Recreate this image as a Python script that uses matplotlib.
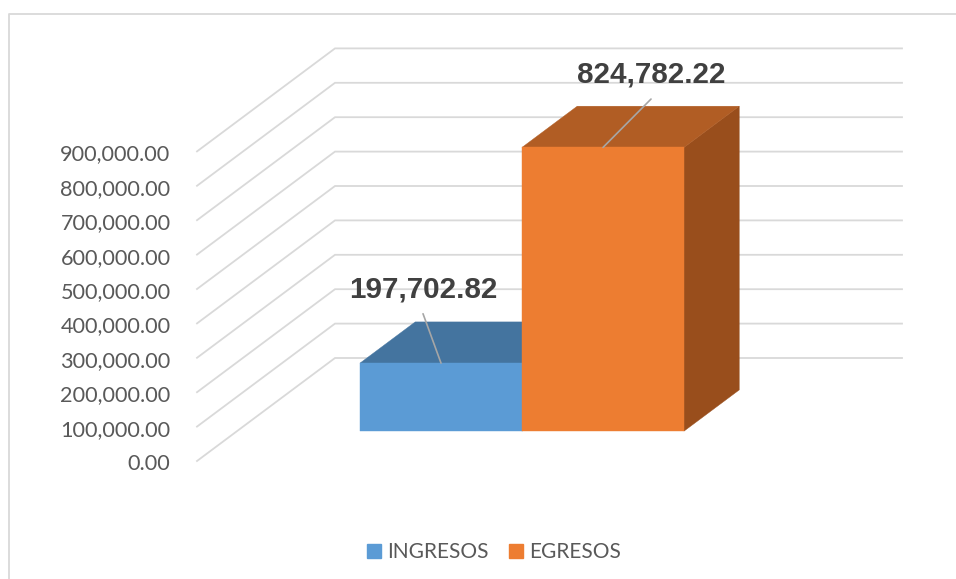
import matplotlib
matplotlib.use('Agg')
import matplotlib.pyplot as plt
from matplotlib.lines import Line2D
from matplotlib.patches import Patch, Polygon
from matplotlib.transforms import ScaledTranslation

categories = ['INGRESOS', 'EGRESOS']
values = [197702.82, 824782.22]
yticks = [0, 100000, 200000, 300000, 400000, 500000, 600000, 700000, 800000, 900000]
ylabels = ['0.00', '100,000.00', '200,000.00', '300,000.00', '400,000.00',
           '500,000.00', '600,000.00', '700,000.00', '800,000.00', '900,000.00']
front_colors = ['#5B9BD5', '#ED7D31']
top_colors = ['#44749F', '#B15D24']
side_colors = ['#3A6489', '#994E1C']

W, H = 956, 579
PX_PER_VAL = 34.4 / 100000     # pixels per unit on the value axis
CAT_PX = 162                   # width of one bar
DEPTH_X = 138 / CAT_PX         # wall depth in x units
DEPTH_Y = 103 / PX_PER_VAL     # wall depth in value units
BAR_D0, BAR_D1 = 0.29, 0.69    # bar front/back as fraction of wall depth


def proj(x, v, d):
    return (x + d * DEPTH_X, v + d * DEPTH_Y)


fig = plt.figure(figsize=(W / 100, H / 100), dpi=100)
fig.patch.set_facecolor('white')

# chart frame, only top and left are visible in the picture
fig.add_artist(Line2D([9 / W, 9 / W, 1], [0, 1 - 13.5 / H, 1 - 13.5 / H],
                      color='#D9D9D9', lw=1.3, transform=fig.transFigure))

left, right, bottom, top = 197, 902, 461, 40
ax = fig.add_axes([left / W, 1 - bottom / H, (right - left) / W, (bottom - top) / H])
x0 = 320 + CAT_PX / 2
ax.set_xlim((left - x0) / CAT_PX, (right - x0) / CAT_PX)
ax.set_ylim(0, (bottom - top) / PX_PER_VAL)
for s in ax.spines.values():
    s.set_visible(False)
ax.set_xticks([])
ax.set_yticks(yticks)
ax.set_yticklabels(ylabels, fontsize=15.6, color='#595959', family='Lato')
ax.tick_params(axis='y', length=0, pad=19)
# labels sit a little lower than the tick position
shift = ScaledTranslation(0, -0.8 / 72, fig.dpi_scale_trans)
for lab in ax.get_yticklabels():
    lab.set_transform(lab.get_transform() + shift)

# gridlines: slanted side wall + back wall
xl = ax.get_xlim()
for v in yticks:
    bx, by = proj(xl[0], v, 1)
    ax.plot([xl[0], bx, xl[1]], [v, by, by], color='#D9D9D9', lw=1.3,
            zorder=1, clip_on=False, solid_joinstyle='miter')

# 3d bars
for i, v in enumerate(values):
    l, r = i - 0.5, i + 0.5
    front = [proj(l, 0, BAR_D0), proj(r, 0, BAR_D0), proj(r, v, BAR_D0), proj(l, v, BAR_D0)]
    roof = [proj(l, v, BAR_D0), proj(r, v, BAR_D0), proj(r, v, BAR_D1), proj(l, v, BAR_D1)]
    side = [proj(r, 0, BAR_D0), proj(r, 0, BAR_D1), proj(r, v, BAR_D1), proj(r, v, BAR_D0)]
    z = 2 + i
    ax.add_patch(Polygon(side, fc=side_colors[i], ec=side_colors[i], lw=0.3, zorder=z))
    ax.add_patch(Polygon(roof, fc=top_colors[i], ec=top_colors[i], lw=0.3, zorder=z))
    ax.add_patch(Polygon(front, fc=front_colors[i], ec=front_colors[i], lw=0.3, zorder=z))

# data labels with leader lines
offsets = [(-18, 74), (48, 73)]
for i, v in enumerate(values):
    ax.annotate(f'{v:,.2f}', xy=proj(i, v, BAR_D0), xycoords='data',
                xytext=offsets[i], textcoords='offset pixels',
                ha='center', va='center', fontsize=21.3, fontweight='bold',
                color='#404040', family='Liberation Sans', zorder=6,
                arrowprops=dict(arrowstyle='-', color='#A6A6A6', lw=1.2,
                                relpos=(0.5, -0.38), shrinkA=0, shrinkB=0))

handles = [Patch(fc=c, ec=c, label=n) for c, n in zip(front_colors, categories)]
fig.legend(handles=handles, loc='center', bbox_to_anchor=(494 / W, 1 - 552 / H), ncol=2,
           frameon=False, handlelength=0.67, handleheight=0.67, handletextpad=0.3,
           columnspacing=0.95, prop={'family': 'Lato', 'size': 15}, labelcolor='#595959')

fig.savefig('out.png', dpi=100)
